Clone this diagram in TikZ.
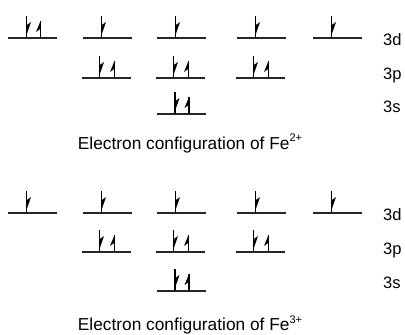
\documentclass[tikz,border=0pt]{standalone}
\usepackage{fontspec}
\setmainfont{Liberation Sans}
\begin{document}
\begin{tikzpicture}[x=1pt,y=-1pt,
  lvl/.style={line width=1.3pt, draw=black!85},
  stroke/.style={line width=1.4pt, draw=black},
  dn/.pic={\draw[stroke] (0,0) -- (0,-22); \fill[black] (0,-3) -- (4.5,-16) -- (0.4,-13) -- cycle;},
  upa/.pic={\draw[stroke] (0,0) -- (0,-17); \fill[black] (0,-17) -- (-4.5,-6) -- (-0.4,-9) -- cycle;},
  lab/.style={anchor=base west, inner sep=0pt, font=\fontsize{16.5}{19}\selectfont},
  captext/.style={anchor=base, inner sep=0pt, font=\fontsize{17.3}{20}\selectfont}]
\useasboundingbox (0,0) rectangle (405,335);
% ---------- Fe2+ ----------
% 3d
\draw[lvl] (8,38) -- (57,38);
\pic at (26.5,38) {dn}; \pic at (40.5,38) {upa};
\foreach \c in {107.5,181.5,261.5,337.5}{
  \draw[lvl] (\c-24.5,38) -- (\c+24.5,38);
  \pic at (\c-6,38) {dn};
}
% 3p
\foreach \c in {106.5,180.5,260.5}{
  \draw[lvl] (\c-24.5,78) -- (\c+24.5,78);
  \pic at (\c-7,78) {dn}; \pic at (\c+8,78) {upa};
}
% 3s
\draw[lvl] (157,114) -- (206,114);
\pic at (175,114) {dn}; \pic at (189,114) {upa};
\node[lab] (d1) at (383,45) {3d};
\node[lab] (p1) at (383,79) {3p};
\node[lab] (s1) at (383,112) {3s};
\node[captext] (c1) at (190,149) {Electron configuration of Fe\raisebox{0.42em}{\fontsize{11}{12}\selectfont 2+}};
% ---------- Fe3+ ----------
\foreach \c in {32.5,107.5,181.5,261.5,337.5}{
  \draw[lvl] (\c-24.5,213) -- (\c+24.5,213);
  \pic at (\c-6,213) {dn};
}
\foreach \c in {106.5,180.5,260.5}{
  \draw[lvl] (\c-24.5,252) -- (\c+24.5,252);
  \pic at (\c-7,252) {dn}; \pic at (\c+8,252) {upa};
}
\draw[lvl] (157,291) -- (206,291);
\pic at (175,291) {dn}; \pic at (189,291) {upa};
\node[lab] (d2) at (383,220) {3d};
\node[lab] (p2) at (383,254) {3p};
\node[lab] (s2) at (383,288) {3s};
\node[captext] (c2) at (190,330.5) {Electron configuration of Fe\raisebox{0.42em}{\fontsize{11}{12}\selectfont 3+}};
\end{tikzpicture}
\end{document}
